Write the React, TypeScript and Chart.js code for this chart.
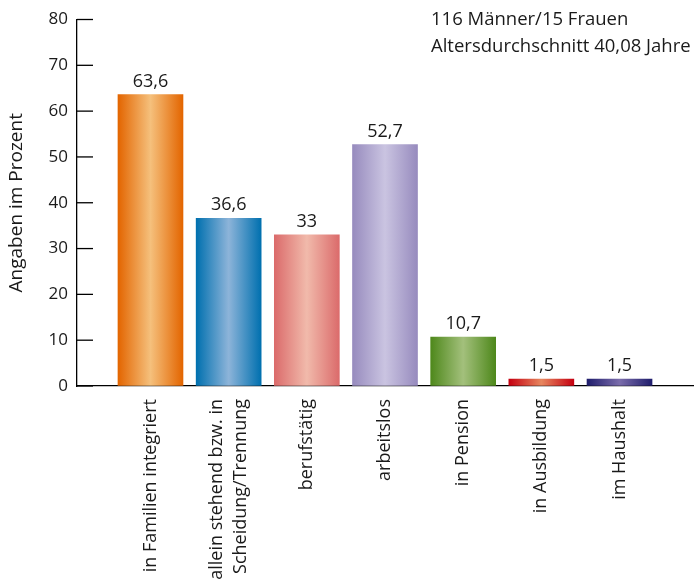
import React, { useEffect, useRef } from "react";
import { Chart, registerables } from "chart.js";

Chart.register(...registerables);

const categories: (string | string[])[] = [
  "in Familien integriert",
  ["allein stehend bzw. in", "Scheidung/Trennung"],
  "berufstätig",
  "arbeitslos",
  "in Pension",
  "in Ausbildung",
  "im Haushalt",
];
const values = [63.6, 36.6, 33, 52.7, 10.7, 1.5, 1.5];
const edgeColors = ["#E36500", "#0070AF", "#DB6B6B", "#978BBE", "#4E881B", "#C50010", "#1F1D6C"];
const centerColors = ["#F5C07C", "#8DB4D9", "#F1BAAB", "#CAC4E1", "#A3C07C", "#E7875F", "#7A6CAB"];
const yTicks = [0, 10, 20, 30, 40, 50, 60, 70, 80];
const noteLines = ["116 Männer/15 Frauen", "Altersdurchschnitt 40,08 Jahre"];
const yTitle = "Angaben im Prozent";

const FONT = "'Open Sans', 'Noto Sans', sans-serif";
const BAR_WIDTH = 65;
const X_MIN = -0.94;
const X_MAX = 6.94;
const X_FONT_SIZE = 18;
const X_LINE_HEIGHT = 1.35;

export default function App() {
  const ref = useRef<HTMLCanvasElement | null>(null);

  useEffect(() => {
    if (!ref.current) return;

    const labelPlugin = {
      id: "valueLabels",
      afterDatasetsDraw(chart: any) {
        const ctx = chart.ctx;
        const meta = chart.getDatasetMeta(0);
        ctx.save();
        ctx.font = `18px ${FONT}`;
        ctx.fillStyle = "#1a1a1a";
        ctx.textAlign = "center";
        ctx.textBaseline = "alphabetic";
        meta.data.forEach((el: any, i: number) => {
          ctx.fillText(String(values[i]).replace(".", ","), el.x, el.y - 8);
        });
        ctx.restore();
      },
    };

    const innerTicksPlugin = {
      id: "innerTicks",
      afterDraw(chart: any) {
        const ys = chart.scales.y;
        const ctx = chart.ctx;
        const left = chart.chartArea.left;
        ctx.save();
        ctx.strokeStyle = "#000";
        ctx.lineWidth = 1.3;
        ys.ticks.forEach((t: any) => {
          const py = ys.getPixelForValue(t.value);
          ctx.beginPath();
          ctx.moveTo(left, py);
          ctx.lineTo(left + 16, py);
          ctx.stroke();
        });
        ctx.restore();
      },
    };

    const notePlugin = {
      id: "note",
      afterDraw(chart: any) {
        const ctx = chart.ctx;
        ctx.save();
        ctx.font = `18.5px ${FONT}`;
        ctx.fillStyle = "#1a1a1a";
        ctx.textAlign = "left";
        ctx.textBaseline = "middle";
        noteLines.forEach((t, i) => ctx.fillText(t, 431, 20 + i * 26.5));
        ctx.restore();
      },
    };

    const chart = new Chart(ref.current, {
      type: "bar",
      data: {
        datasets: [
          {
            data: values.map((v, i) => ({ x: i, y: v })),
            barThickness: BAR_WIDTH,
            borderWidth: 0,
            backgroundColor: (c: any) => {
              const chartRef = c.chart;
              const xs = chartRef.scales?.x;
              const i = c.dataIndex;
              if (!xs || !chartRef.chartArea || i === undefined) return edgeColors[i ?? 0];
              const cx = xs.getPixelForValue(i);
              const half = BAR_WIDTH / 2;
              const g = chartRef.ctx.createLinearGradient(cx - half, 0, cx + half, 0);
              g.addColorStop(0, edgeColors[i]);
              g.addColorStop(0.5, centerColors[i]);
              g.addColorStop(1, edgeColors[i]);
              return g;
            },
          },
        ],
      },
      options: {
        animation: false,
        responsive: true,
        maintainAspectRatio: false,
        layout: { padding: { top: 19.5, right: 3, left: 0, bottom: 0 } },
        plugins: {
          legend: { display: false },
          tooltip: { enabled: false },
        },
        scales: {
          x: {
            type: "linear",
            offset: false,
            bounds: "data",
            min: X_MIN,
            max: X_MAX,
            grid: { display: false, offset: false },
            border: { display: true, color: "#000", width: 1.3 },
            afterBuildTicks: (axis: any) => {
              const pxPerUnit = (axis.width || 616) / (X_MAX - X_MIN);
              axis.ticks = categories.map((c, i) => {
                const lines = Array.isArray(c) ? c.length : 1;
                const shiftPx = ((lines - 1) * X_FONT_SIZE * X_LINE_HEIGHT) / 2;
                return { value: i - shiftPx / pxPerUnit };
              });
            },
            afterFit: (axis: any) => {
              axis.height = 199;
              axis.paddingLeft = 0;
              axis.paddingRight = 0;
            },
            ticks: {
              autoSkip: false,
              minRotation: 90,
              maxRotation: 90,
              padding: 5,
              color: "#1a1a1a",
              font: { family: FONT, size: X_FONT_SIZE, lineHeight: X_LINE_HEIGHT },
              callback: (_v: any, index: number) => categories[index] as any,
            },
          },
          y: {
            min: 0,
            max: 80,
            afterBuildTicks: (axis: any) => {
              axis.ticks = yTicks.map((v) => ({ value: v }));
            },
            afterFit: (axis: any) => {
              axis.width = 77;
            },
            grid: {
              drawOnChartArea: false,
              drawTicks: false,
            },
            border: { display: true, color: "#000", width: 1.3 },
            ticks: {
              padding: 9,
              color: "#1a1a1a",
              font: { family: FONT, size: 17 },
            },
            title: {
              display: true,
              text: yTitle,
              color: "#1a1a1a",
              font: { family: FONT, size: 19 },
              padding: { top: 5, bottom: 0 },
            },
          },
        },
      },
      plugins: [labelPlugin, innerTicksPlugin, notePlugin],
    } as any);

    return () => chart.destroy();
  }, []);

  return (
    <div style={{ position: "fixed", left: 0, top: 0, width: 696, height: 585, background: "#fff" }}>
      <canvas ref={ref} />
    </div>
  );
}
